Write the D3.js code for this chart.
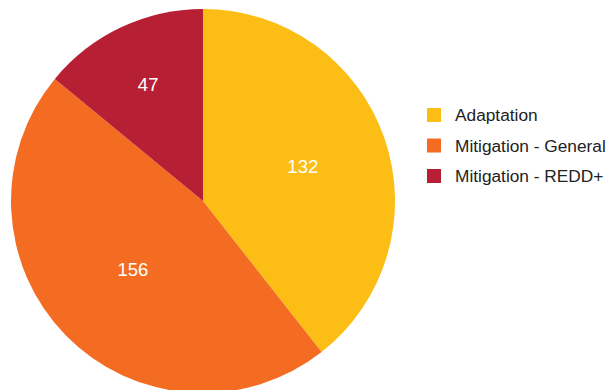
<!DOCTYPE html>
<html>
<head>
<meta charset="utf-8">
<script src="https://cdn.jsdelivr.net/npm/d3@7"></script>
<style>
  html, body { margin: 0; padding: 0; background: #fff; }
  svg { display: block; }
</style>
</head>
<body>
<svg id="chart" width="612" height="390"></svg>
<script>
// Funding by category
const categories = ["Adaptation", "Mitigation - General", "Mitigation - REDD+"];
const values = [132, 156, 47];
const colors = ["#FCBD14", "#F36C22", "#B61F34"];
// label distance from centre, as a share of the radius
const labelRadius = [0.55, 0.51, 0.67];

const svg = d3.select("#chart");
const cx = 203, cy = 201, r = 192;

const pie = d3.pie().sort(null).value(d => d.value);
const data = categories.map((c, i) => ({ name: c, value: values[i], color: colors[i], lr: labelRadius[i] }));
const arcs = pie(data);
const arc = d3.arc().innerRadius(0).outerRadius(r);

const g = svg.append("g").attr("transform", `translate(${cx},${cy})`);
g.selectAll("path.slice")
  .data(arcs)
  .join("path")
  .attr("class", "slice")
  .attr("d", arc)
  .attr("fill", d => d.data.color);

g.selectAll("text.value")
  .data(arcs)
  .join("text")
  .attr("class", "value")
  .attr("transform", d => {
    const la = d3.arc().innerRadius(r * d.data.lr).outerRadius(r * d.data.lr);
    const [x, y] = la.centroid(d);
    return `translate(${x},${y})`;
  })
  .attr("text-anchor", "middle")
  .attr("dominant-baseline", "central")
  .attr("font-family", "'Liberation Sans', Arial, sans-serif")
  .attr("font-size", 18.5)
  .attr("fill", "#fff")
  .text(d => d.data.value);

// Legend
const legend = svg.append("g").attr("transform", "translate(427,115)");
const rows = legend.selectAll("g.row")
  .data(data)
  .join("g")
  .attr("class", "row")
  .attr("transform", (d, i) => `translate(0,${i * 30.5})`);
rows.append("rect")
  .attr("x", 0).attr("y", -7)
  .attr("width", 14).attr("height", 14)
  .attr("fill", d => d.color);
rows.append("text")
  .attr("x", 28).attr("y", 0)
  .attr("dominant-baseline", "central")
  .attr("font-family", "'Liberation Sans', Arial, sans-serif")
  .attr("font-size", 17.3)
  .attr("fill", "#222")
  .text(d => d.name);
</script>
</body>
</html>
